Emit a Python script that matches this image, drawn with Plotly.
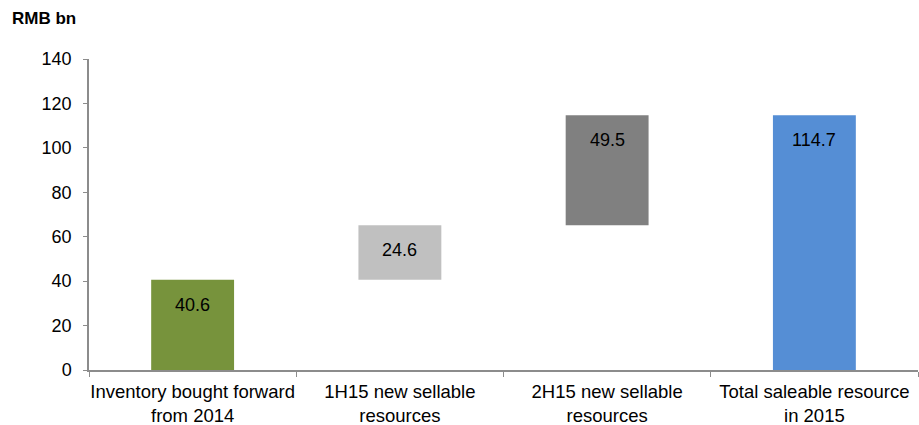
import plotly.graph_objects as go

categories = ["Inventory bought forward<br>from 2014", "1H15 new sellable<br>resources",
              "2H15 new sellable<br>resources", "Total saleable resource<br>in 2015"]
values = [40.6, 24.6, 49.5, 114.7]
bases = [0, 40.6, 65.2, 0]
colors = ["#77933C", "#C0C0C0", "#808080", "#558ED5"]
y_ticks = [0, 20, 40, 60, 80, 100, 120, 140]

FONT = "Liberation Sans, Arial, sans-serif"

fig = go.Figure()
fig.add_trace(go.Bar(
    x=categories, y=values, base=bases,
    marker=dict(color=colors, line=dict(width=0)),
    width=0.4, hoverinfo="skip",
))

for c, v, b in zip(categories, values, bases):
    fig.add_annotation(x=c, y=b + v, text=f"{v:.1f}", showarrow=False,
                       yanchor="top", yshift=-13,
                       font=dict(family=FONT, size=18, color="#000000"))

fig.add_annotation(xref="paper", yref="paper", x=-0.0953, y=1.13,
                   xanchor="left", yanchor="middle", text="<b>RMB bn</b>",
                   showarrow=False, font=dict(family=FONT, size=17, color="#000000"))

fig.update_layout(
    width=919, height=425,
    margin=dict(l=89, r=1, t=59, b=55),
    paper_bgcolor="white", plot_bgcolor="white",
    showlegend=False,
    font=dict(family=FONT, size=18, color="#000000"),
)
fig.update_xaxes(
    showline=True, linecolor="#8C8C8C", linewidth=1.5,
    ticks="outside", tickson="boundaries", ticklen=5, tickcolor="#8C8C8C",
    showgrid=False, tickfont=dict(family=FONT, size=18.5, color="#000000"),
    ticklabelstandoff=4, tickangle=0, automargin=False,
    range=[-0.5, 3.5],
)
fig.update_yaxes(
    range=[0, 140], tickvals=y_ticks, showline=True, linecolor="#8C8C8C", linewidth=1.5,
    ticks="outside", ticklen=4, tickcolor="#8C8C8C", showgrid=False, zeroline=False,
    tickfont=dict(family=FONT, size=18, color="#000000"),
    ticklabelstandoff=8, automargin=False,
)

fig.write_html("out.html")
